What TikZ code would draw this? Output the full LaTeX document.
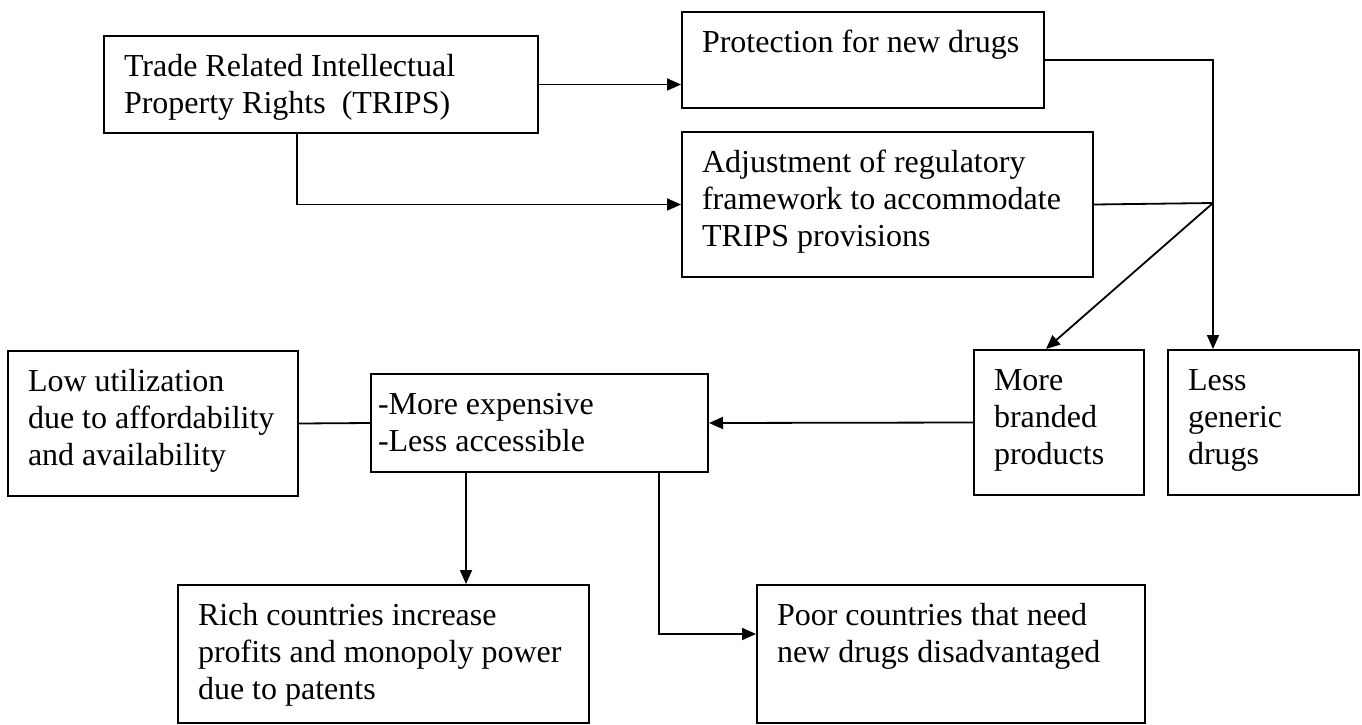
\documentclass[tikz,border=0pt]{standalone}
\usepackage{fontspec}
\setmainfont{Liberation Serif}
\usetikzlibrary{arrows.meta, calc}

% text of a box: [side pad]{width px}{height px}{lines}
\newcommand{\boxtext}[4][20pt]{%
  \parbox[t][\dimexpr #3pt/2-15pt\relax][t]{\dimexpr #2pt/2-#1\relax}{\raggedright\strut #4}}

\begin{document}
\begin{tikzpicture}[x=0.5pt, y=-0.5pt,
  box/.style={draw, line width=1pt, anchor=north west, inner xsep=10pt, inner ysep=7.5pt,
    font=\fontsize{16pt}{18.5pt}\selectfont},
  link/.style={line width=0.9pt},
  flow/.style={link, -{Triangle[length=7pt, width=6pt]}}]
\useasboundingbox (0,0) rectangle (1362,724);

% boxes
\node[box] (trips) at (103,35) {\boxtext{434}{97}{Trade Related Intellectual\\Property Rights\ \ (TRIPS)}};
\node[box] (prot) at (681,11) {\boxtext{362}{96}{Protection for new drugs}};
\node[box] (adj) at (681,131) {\boxtext{411}{145}{Adjustment of regulatory\\framework to accommodate\\TRIPS provisions}};
\node[box] (brand) at (973,349) {\boxtext{170}{145}{More\\branded\\products}};
\node[box] (generic) at (1167,349) {\boxtext{191}{145}{Less\\generic\\drugs}};
\node[box, inner xsep=3.5pt] (cost) at (370,373) {\boxtext[7pt]{337}{98}{-More expensive\\-Less accessible}};
\node[box] (lowuse) at (7,350) {\boxtext{290}{145}{Low utilization\\due to affordability\\and availability}};
\node[box] (rich) at (177,584) {\boxtext{411}{138}{Rich countries increase\\profits and monopoly power\\due to patents}};
\node[box] (poor) at (756,584) {\boxtext{388}{138}{Poor countries that need\\new drugs disadvantaged}};

% branch points
\coordinate (tripsout) at ($(trips.south west)+(194,0)$);
\coordinate (hub) at (1213,203);
\coordinate (richout) at ($(cost.south west)+(96,0)$);
\coordinate (poorout) at ($(cost.south west)+(289,0)$);

% connectors
\draw[flow] (trips.east) -- (trips.east -| prot.west);
\draw[flow] (tripsout) |- (adj.west);
\draw[link] (prot.east) -| (hub);
\draw[link] (adj.east) -- (hub);
\draw[flow] (hub) -- (hub |- generic.north);
\draw[flow] (hub) -- ([xshift=-6.5pt]brand.north);
\draw[flow] (brand.west) -- (cost.east);
\draw[link] (lowuse.east) -- (cost.west);
\draw[flow] (richout) -- (richout |- rich.north);
\draw[flow] (poorout) |- ([yshift=10pt]poor.west);
\end{tikzpicture}
\end{document}
